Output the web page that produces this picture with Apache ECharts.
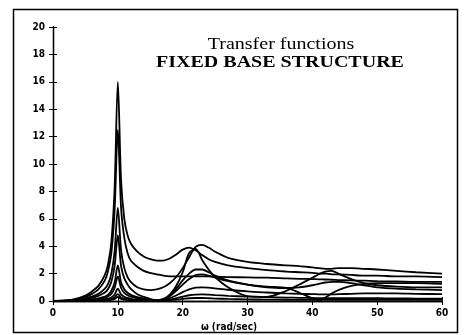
<!DOCTYPE html>
<html>
<head>
<meta charset="utf-8">
<script src="https://cdn.jsdelivr.net/npm/echarts@6/dist/echarts.min.js"></script>
<style>
  html, body { margin: 0; padding: 0; background: #fff; }
  #chart { width: 467px; height: 335px; }
</style>
</head>
<body>
<div id="chart"></div>
<script>
// frequency grid (rad/sec) shared by all curves
const omega = [0, 3, 5, 6, 7, 8, 8.5, 9, 9.5, 10, 10.5, 11, 11.5, 12, 13, 14, 15, 16, 17, 18,
  19, 20, 21, 22, 23, 24, 25, 27, 30, 33, 36, 38, 40, 41, 42, 43, 44, 46, 48, 50, 53, 56, 60];

// transfer function amplitudes
const tf1 = [0, 0.1, 0.4, 0.7, 1.1, 1.9, 2.7, 4.3, 8.2, 16,
  8.8, 6.0, 4.8, 4.2, 3.6, 3.25, 3.05, 2.95, 2.95, 3.1,
  3.4, 3.75, 3.9, 3.7, 3.35, 3.05, 2.85, 2.6, 2.4, 2.25,
  2.15, 2.1, 2.05, 2.0, 2.0, 1.95, 1.95, 1.9, 1.85, 1.85, 1.8, 1.8, 1.75];
const tf2 = [0, 0.08, 0.3, 0.52, 0.85, 1.5, 2.2, 3.5, 6.6, 12.5,
  6.8, 4.6, 3.5, 2.95, 2.5, 2.2, 2.05, 1.95, 1.85, 1.8,
  1.8, 1.8, 1.8, 1.8, 1.8, 1.8, 1.78, 1.75, 1.72, 1.7,
  1.65, 1.62, 1.6, 1.58, 1.57, 1.55, 1.53, 1.5, 1.48, 1.45, 1.43, 1.4, 1.4];
const tf3 = [0, 0.05, 0.2, 0.32, 0.52, 0.9, 1.25, 2.0, 3.6, 6.8,
  3.7, 2.4, 1.75, 1.4, 1.0, 0.85, 0.8, 0.85, 1.0, 1.3,
  1.75, 2.4, 3.2, 3.95, 4.1, 3.9, 3.6, 3.15, 2.85, 2.7,
  2.6, 2.55, 2.45, 2.4, 2.35, 2.35, 2.4, 2.4, 2.35, 2.3, 2.2, 2.1, 2.0];
const tf4 = [0, 0.03, 0.13, 0.23, 0.38, 0.62, 0.88, 1.4, 2.55, 4.8,
  2.55, 1.65, 1.2, 0.88, 0.5, 0.3, 0.15, 0.05, 0.1, 0.45,
  1.1, 2.1, 3.5, 3.8, 3.0, 2.3, 1.75, 1.0, 0.35, 0.3,
  0.75, 1.2, 1.7, 1.95, 2.15, 2.2, 2.0, 1.6, 1.3, 1.15, 1.05, 1.0, 1.0];
const tf5 = [0, 0.02, 0.07, 0.12, 0.2, 0.33, 0.47, 0.75, 1.35, 2.6,
  1.35, 0.85, 0.6, 0.45, 0.28, 0.18, 0.1, 0.05, 0.15, 0.45,
  0.9, 1.5, 2.0, 2.3, 2.3, 2.1, 1.85, 1.5, 1.2, 1.0,
  0.95, 1.0, 1.15, 1.25, 1.35, 1.4, 1.4, 1.3, 1.15, 1.0, 0.9, 0.85, 0.8];
const tf6 = [0, 0.01, 0.05, 0.08, 0.14, 0.23, 0.33, 0.52, 0.95, 1.8,
  0.95, 0.6, 0.42, 0.32, 0.2, 0.12, 0.07, 0.04, 0.1, 0.35,
  0.75, 1.2, 1.6, 1.9, 1.95, 1.85, 1.7, 1.45, 1.2, 1.05,
  0.95, 0.6, 0.2, 0.05, 0.25, 0.55, 0.8, 1.1, 1.25, 1.3, 1.3, 1.3, 1.25];
const tf7 = [0, 0.01, 0.03, 0.05, 0.07, 0.12, 0.17, 0.26, 0.48, 0.9,
  0.48, 0.3, 0.22, 0.16, 0.1, 0.06, 0.04, 0.03, 0.06, 0.2,
  0.4, 0.65, 0.85, 0.97, 1.0, 0.97, 0.92, 0.82, 0.7, 0.62,
  0.55, 0.52, 0.5, 0.49, 0.48, 0.48, 0.5, 0.52, 0.55, 0.55, 0.55, 0.52, 0.5];
const tf8 = [0, 0, 0.02, 0.03, 0.04, 0.07, 0.09, 0.14, 0.26, 0.5,
  0.26, 0.17, 0.12, 0.09, 0.06, 0.04, 0.03, 0.02, 0.04, 0.1,
  0.2, 0.32, 0.42, 0.47, 0.48, 0.46, 0.43, 0.38, 0.32, 0.28,
  0.25, 0.23, 0.22, 0.21, 0.2, 0.2, 0.2, 0.2, 0.2, 0.2, 0.19, 0.18, 0.18];
const tf9 = [0, 0, 0.01, 0.02, 0.03, 0.04, 0.05, 0.08, 0.15, 0.3,
  0.15, 0.1, 0.07, 0.05, 0.03, 0.02, 0.01, 0.01, 0.02, 0.05,
  0.1, 0.15, 0.2, 0.22, 0.22, 0.2, 0.18, 0.15, 0.12, 0.1,
  0.09, 0.08, 0.08, 0.08, 0.08, 0.08, 0.08, 0.08, 0.08, 0.08, 0.08, 0.08, 0.08];

const curves = [tf1, tf2, tf3, tf4, tf5, tf6, tf7, tf8, tf9];

const tickFont = { color: '#000', fontSize: 10, fontWeight: 'bold', fontFamily: "'Liberation Sans Narrow', 'DejaVu Sans Condensed', sans-serif" };
const axisBase = {
  min: 0,
  axisLine: { show: true, lineStyle: { color: '#000', width: 1.3 } },
  axisTick: { show: true, inside: true, length: 4, lineStyle: { color: '#000' } },
  splitLine: { show: false },
};

const chart = echarts.init(document.getElementById('chart'));
chart.setOption({
  backgroundColor: '#fff',
  animation: false,
  grid: { left: 53, right: 25, top: 27, bottom: 34 },
  xAxis: [
    { ...axisBase, type: 'value', position: 'bottom', max: 60, interval: 10, axisLabel: { ...tickFont, margin: 7 } },
    { ...axisBase, type: 'value', position: 'top', max: 60, interval: 10, axisLabel: { show: false } },
  ],
  yAxis: [
    { ...axisBase, type: 'value', position: 'left', max: 20, interval: 2, axisLabel: { ...tickFont, margin: 8 } },
    { ...axisBase, type: 'value', position: 'right', max: 20, interval: 2, axisLabel: { show: false } },
  ],
  graphic: [
    { type: 'rect', left: 11, top: 7, shape: { width: 444, height: 323 }, style: { fill: null, stroke: '#000', lineWidth: 1.5 }, silent: true },
    { type: 'text', x: 281, y: 45, scaleX: 1.25,
      style: { text: 'Transfer functions', fill: '#000', font: "16px 'Liberation Serif', serif", textAlign: 'center', textVerticalAlign: 'middle' } },
    { type: 'text', x: 280, y: 63, scaleX: 1.25,
      style: { text: 'FIXED BASE STRUCTURE', fill: '#000', font: "bold 16px 'Liberation Serif', serif", textAlign: 'center', textVerticalAlign: 'middle' } },
    { type: 'text', x: 229, y: 327,
      style: { text: 'ω (rad/sec)', fill: '#000', font: "bold 10px 'Liberation Sans Narrow', 'DejaVu Sans Condensed', sans-serif", textAlign: 'center', textVerticalAlign: 'middle' } },
  ],
  series: curves.map(c => ({
    type: 'line',
    xAxisIndex: 0,
    yAxisIndex: 0,
    showSymbol: false,
    smooth: 0.3,
    lineStyle: { color: '#000', width: 1.8 },
    data: omega.map((w, i) => [w, c[i]]),
  })),
});
</script>
</body>
</html>
